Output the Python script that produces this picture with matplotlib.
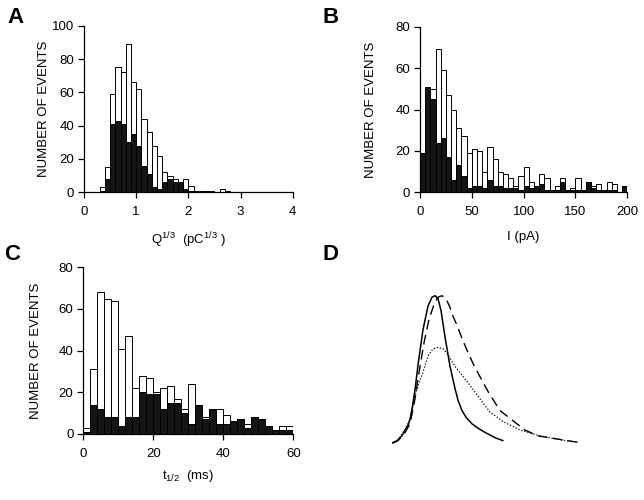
import numpy as np
import matplotlib.pyplot as plt

plt.rcParams['font.family'] = ['Liberation Sans', 'DejaVu Sans']
plt.rcParams['mathtext.fontset'] = 'custom'
plt.rcParams['mathtext.rm'] = 'Liberation Sans'
plt.rcParams['mathtext.it'] = 'Liberation Sans:italic'

# A: Q^(1/3) histogram, bins of 0.1 starting at 0.3
q_left = np.round(np.arange(0.3, 2.8, 0.1), 2)
q_all = [3, 15, 59, 75, 72, 89, 66, 62, 44, 36, 28, 22, 12, 10, 8, 6, 8, 4, 1, 1, 1, 1, 0, 2, 1]
q_sub = [1, 8, 41, 43, 41, 30, 35, 28, 16, 11, 3, 2, 6, 8, 6, 6, 2, 1, 0, 0, 0, 0, 0, 0, 0]

# B: peak current histogram, bins of 5 pA
i_left = np.arange(0, 200, 5)
i_all = [18, 50, 50, 69, 59, 47, 40, 31, 27, 19, 21, 20, 10, 22, 16, 10, 9, 7, 3, 8,
         12, 5, 3, 9, 7, 1, 3, 7, 1, 2, 7, 1, 5, 3, 4, 1, 5, 4, 0, 3]
i_sub = [19, 51, 45, 24, 26, 17, 6, 13, 8, 2, 3, 3, 2, 6, 3, 3, 2, 2, 2, 1,
         3, 2, 3, 4, 1, 1, 1, 5, 1, 1, 1, 1, 5, 2, 1, 1, 1, 1, 0, 3]

# C: half-width histogram, bins of 2 ms
t_left = np.arange(0, 60, 2)
t_all = [3, 31, 68, 65, 64, 41, 47, 22, 28, 27, 20, 22, 23, 17, 12, 24, 14, 8, 12, 12,
         9, 6, 7, 5, 8, 7, 4, 2, 4, 4]
t_sub = [1, 14, 12, 8, 8, 4, 8, 8, 20, 19, 19, 12, 15, 15, 10, 5, 14, 7, 12, 5,
         5, 6, 7, 3, 8, 7, 4, 2, 2, 2]

# D: averaged event waveforms (arbitrary time, normalised amplitude)
solid_t = [0, 5, 10, 13, 16, 18, 20, 23, 26, 31, 36, 40, 43, 46, 49, 53, 58, 63, 66, 70,
           74, 80, 84, 88, 93, 98, 104, 111]
solid_a = [0, 0.015, 0.05, 0.088, 0.12, 0.16, 0.23, 0.36, 0.53, 0.77, 0.93, 0.99, 1.0, 0.98,
           0.90, 0.72, 0.52, 0.37, 0.29, 0.22, 0.175, 0.13, 0.11, 0.092, 0.072, 0.054, 0.033, 0.016]
dash_t = [1, 6, 13, 18, 23, 27, 32, 37, 42, 46, 50, 54, 58, 61, 65, 70, 75, 81, 88, 96,
          108, 120, 133, 146, 161, 175, 191]
dash_a = [0, 0.015, 0.07, 0.13, 0.30, 0.48, 0.68, 0.84, 0.94, 0.99, 1.0, 0.98, 0.92, 0.86,
          0.80, 0.71, 0.63, 0.54, 0.45, 0.35, 0.22, 0.156, 0.088, 0.048, 0.032, 0.016, 0.0]
dot_t = [0, 6, 13, 18, 23, 27, 30, 36, 41, 46, 51, 56, 63, 76, 89, 98, 111, 128, 145, 155,
         170, 180]
dot_a = [0, 0.02, 0.09, 0.16, 0.32, 0.41, 0.46, 0.59, 0.64, 0.65, 0.64, 0.60, 0.52, 0.41,
         0.29, 0.21, 0.145, 0.088, 0.054, 0.039, 0.02, 0.01]

fig = plt.figure(figsize=(6.44, 5.0), dpi=100)


def hist_panel(rect, left, all_v, sub_v, width, xlim, xticks, ylim, yticks, xlabel, ylab_x, xlab_y):
    ax = fig.add_axes(rect)
    ax.bar(left, all_v, width=width, align='edge', color='white', edgecolor='black', linewidth=0.7)
    ax.bar(left, sub_v, width=width, align='edge', color='#151515', edgecolor='black', linewidth=0.7)
    ax.set_xlim(*xlim)
    ax.set_ylim(*ylim)
    ax.set_xticks(xticks)
    ax.set_yticks(yticks)
    for s in ['top', 'right']:
        ax.spines[s].set_visible(False)
    for s in ['left', 'bottom']:
        ax.spines[s].set_linewidth(0.9)
    ax.tick_params(direction='out', width=0.9, labelsize=9.5)
    ax.tick_params(axis='x', length=4.5, pad=5.5)
    ax.tick_params(axis='y', length=4, pad=3)
    ax.set_ylabel('NUMBER OF EVENTS', fontsize=9.5)
    ax.yaxis.set_label_coords(ylab_x, 0.5)
    ax.set_xlabel(xlabel, fontsize=9.5)
    ax.xaxis.set_label_coords(0.5, xlab_y)
    return ax


hist_panel([0.1304, 0.6154, 0.3241, 0.3332], q_left, q_all, q_sub, 0.1, (0, 4),
           [0, 1, 2, 3, 4], (0, 100), [0, 20, 40, 60, 80, 100],
           r'Q$^{\mathrm{1/3}}$  (pC$^{\mathrm{1/3}}$ )', -0.163, -0.226)
hist_panel([0.6522, 0.6154, 0.3219, 0.3312], i_left, i_all, i_sub, 5, (0, 200),
           [0, 50, 100, 150, 200], (0, 80), [0, 20, 40, 60, 80], 'I (pA)', -0.207, -0.234)
hist_panel([0.1293, 0.132, 0.3261, 0.3334], t_left, t_all, t_sub, 2, (0, 60),
           [0, 20, 40, 60], (0, 80), [0, 20, 40, 60, 80],
           r't$_{\mathrm{1/2}}$  (ms)', -0.197, -0.205)

axd = fig.add_axes([0.6087, 0.0993, 0.3106, 0.324])
axd.plot(solid_t, solid_a, color='black', lw=1.1, solid_capstyle='round')
axd.plot(dash_t, dash_a, color='black', lw=1.0, linestyle=(0, (7, 4)))
axd.plot(dot_t, dot_a, color='black', lw=0.9, linestyle=(0, (1, 1.5)))
axd.set_xlim(0, 200)
axd.set_ylim(-0.05, 1.05)
axd.axis('off')

for lab, x, y in [('A', 0.011, 0.954), ('B', 0.5, 0.954), ('C', 0.006, 0.48), ('D', 0.5, 0.48)]:
    fig.text(x, y, lab, fontsize=16, fontweight='bold', va='baseline')

fig.savefig('out.png', dpi=100)
